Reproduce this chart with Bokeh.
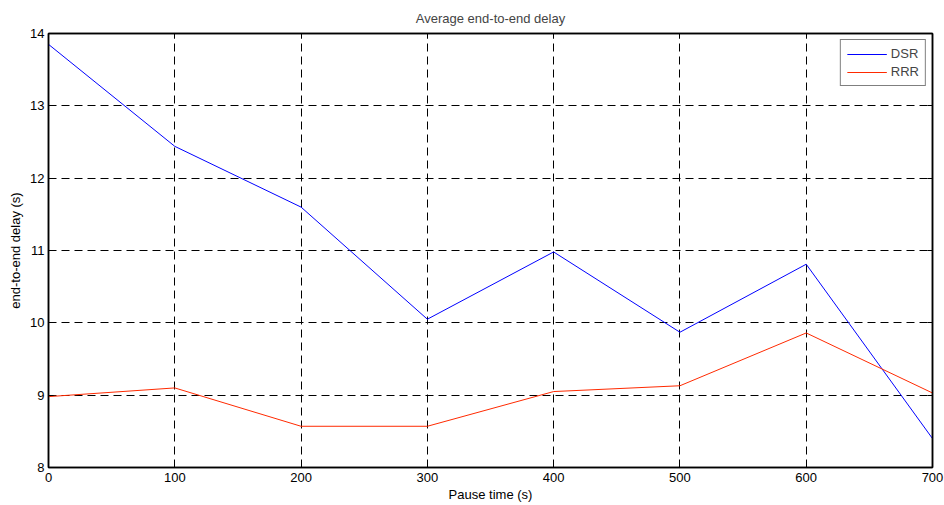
from bokeh.plotting import figure
from bokeh.models import LinearAxis, Range1d, FixedTicker, Legend, LegendItem
from bokeh.embed import file_html
from bokeh.resources import INLINE

pause_time = [0, 100, 200, 300, 400, 500, 600, 700]
dsr = [13.85, 12.44, 11.60, 10.05, 10.98, 9.87, 10.81, 8.40]
rrr = [8.98, 9.10, 8.57, 8.57, 9.05, 9.13, 9.86, 9.03]
x_ticks = [0, 100, 200, 300, 400, 500, 600, 700]
y_ticks = [8, 9, 10, 11, 12, 13, 14]

FONT = "Liberation Sans"

p = figure(width=944, height=505, output_backend="svg", toolbar_location=None,
           x_range=Range1d(0, 700), y_range=Range1d(8, 14),
           min_border_left=48, min_border_right=12, min_border_top=33, min_border_bottom=38)
p.title.text = "Average end-to-end delay"
p.title.align = "center"
p.title.text_font = FONT
p.title.text_font_size = "13px"
p.title.text_font_style = "normal"
p.title.offset = 0
p.title.standoff = 16

p.outline_line_color = "black"
p.outline_line_width = 1.5
p.background_fill_color = "white"
p.border_fill_color = "white"

for ax in (p.xaxis[0], p.yaxis[0]):
    ax.major_tick_in = 5
    ax.major_tick_out = 0
    ax.minor_tick_line_color = None
    ax.axis_line_color = "black"
    ax.axis_line_width = 1.5
    ax.major_label_text_font = FONT
    ax.major_label_text_font_size = "13px"
    ax.major_label_text_color = "black"
    ax.axis_label_text_font = FONT
    ax.axis_label_text_font_size = "13px"
    ax.axis_label_text_font_style = "normal"
    ax.axis_label_text_color = "black"

p.xaxis[0].major_label_standoff = 5
p.xaxis[0].axis_label_standoff = 2
p.yaxis[0].major_label_standoff = 4
p.yaxis[0].axis_label_standoff = 4

p.xaxis[0].ticker = FixedTicker(ticks=x_ticks)
p.yaxis[0].ticker = FixedTicker(ticks=y_ticks)
p.xaxis[0].axis_label = "Pause time (s)"
p.yaxis[0].axis_label = "end-to-end delay (s)"

# box ticks on the right and top (no labels)
for loc in ("right", "above"):
    ticks = y_ticks if loc == "right" else x_ticks
    ax = LinearAxis(ticker=FixedTicker(ticks=ticks),
                    major_label_overrides={t: "" for t in ticks},
                    major_label_standoff=0,
                    major_tick_in=5, major_tick_out=0,
                    minor_tick_line_color=None, axis_line_color="black", axis_line_width=1.5)
    p.add_layout(ax, loc)

p.xgrid.ticker = FixedTicker(ticks=x_ticks)
p.ygrid.ticker = FixedTicker(ticks=y_ticks)
p.grid.grid_line_color = "black"
p.grid.grid_line_dash = "8 5"
p.grid.grid_line_width = 1

r1 = p.line(pause_time, dsr, line_color="#0000ff", line_width=1)
r2 = p.line(pause_time, rrr, line_color="#ff2a00", line_width=1)

legend = Legend(items=[LegendItem(label="DSR", renderers=[r1]),
                       LegendItem(label="RRR", renderers=[r2])],
                location="top_right")
legend.border_line_color = "black"
legend.border_line_width = 1
legend.label_text_font = FONT
legend.label_text_font_size = "13px"
legend.glyph_width = 40
legend.glyph_height = 14
legend.label_height = 14
legend.spacing = 3
legend.padding = 6
legend.margin = 6
legend.label_standoff = 4
p.add_layout(legend)

open("out.html", "w").write(file_html(p, INLINE))
